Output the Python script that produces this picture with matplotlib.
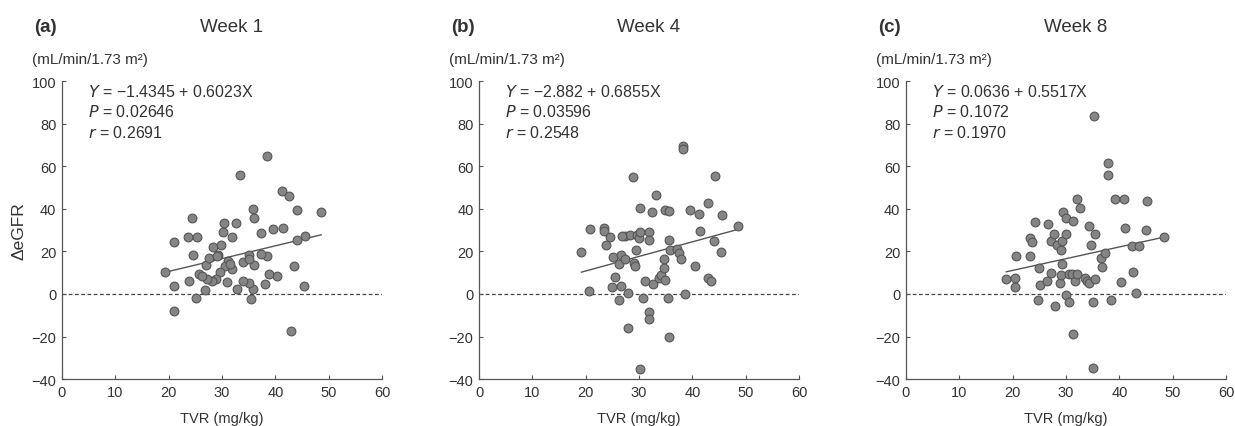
import numpy as np
import matplotlib
matplotlib.use('Agg')
import matplotlib.pyplot as plt

plt.rcParams['font.family'] = ['Liberation Sans', 'DejaVu Sans']

# ===== data =====
labels = ['(a)', '(b)', '(c)']
titles = ['Week 1', 'Week 4', 'Week 8']
intercepts = [-1.4345, -2.882, 0.0636]
slopes = [0.6023, 0.6855, 0.5517]
eq_texts = ['\u22121.4345 + 0.6023X', '\u22122.882 + 0.6855X', '0.0636 + 0.5517X']
p_texts = ['0.02646', '0.03596', '0.1072']
r_texts = ['0.2691', '0.2548', '0.1970']

w1_x = [19.4, 21.0, 21.0, 21.0, 24.3, 23.7, 25.4, 24.6, 23.8, 25.1, 25.6, 26.8, 27.0,
        27.6, 28.3, 29.8, 29.3, 30.1, 30.4, 31.9, 32.6, 33.4, 38.4, 35.8, 36.0, 37.3,
        39.5, 41.4, 41.3, 42.6, 44.1, 48.6, 45.5, 44.0, 43.5, 45.3, 42.9, 40.4, 38.9,
        38.4, 37.3, 38.0, 35.4, 35.8, 35.0, 33.9, 32.8, 31.0, 34.0, 35.0, 36.0, 35.0,
        31.2, 31.8, 30.6, 29.6, 28.9, 28.1, 27.1, 26.2, 31.5, 29.0]
w1_y = [10.5, 24.3, 3.6, -8.0, 35.8, 26.7, 27.0, 18.4, 6.3, -1.9, 9.4, 2.0, 13.8,
        16.8, 22.0, 23.1, 18.4, 29.0, 33.4, 27.0, 33.4, 56.2, 65.1, 40.0, 35.8, 28.7,
        30.6, 30.9, 48.3, 46.3, 39.4, 38.7, 27.1, 25.6, 13.0, 3.9, -17.3, 8.6, 9.4,
        18.0, 18.6, 4.7, -2.4, 2.4, 5.1, 6.3, 2.2, 5.5, 14.9, 18.4, 13.6, 16.5,
        15.7, 11.8, 13.3, 10.2, 7.1, 6.3, 7.1, 8.6, 14.1, 17.8]

w4_x = [19.2, 20.8, 20.7, 23.5, 23.5, 23.8, 24.5, 25.1, 25.4, 24.9, 26.3, 26.7, 26.3,
        26.7, 27.3, 27.4, 27.9, 28.0, 28.8, 28.3, 29.1, 29.3, 29.6, 29.9, 30.2, 29.4,
        30.2, 30.1, 30.7, 31.1, 31.8, 31.8, 31.8, 31.8, 32.4, 32.7, 33.2, 33.8, 34.1,
        34.7, 34.8, 34.6, 34.9, 35.7, 35.7, 35.4, 35.6, 35.8, 37.1, 37.4, 37.8, 38.2,
        38.2, 38.7, 39.6, 40.5, 41.2, 41.5, 42.9, 43.0, 43.5, 44.0, 44.2, 45.3, 45.5,
        48.5, 26.8]
w4_y = [19.7, 30.7, 1.4, 31.0, 29.4, 23.1, 26.6, 17.6, 7.9, 3.1, -2.8, 18.4, 14.2,
        3.9, 27.1, 16.5, 0.6, -16.2, 55.1, 27.9, 14.6, 13.4, 27.9, 26.3, 29.1, 20.8,
        40.5, -35.4, -2.0, 6.1, 29.1, 25.2, -8.3, -11.8, 38.4, 4.9, 46.5, 7.7, 9.0,
        16.5, 6.6, 12.4, 39.4, 38.9, 25.5, -2.0, -20.3, 20.8, 21.3, 19.2, 16.4, 69.6,
        68.4, 0.0, 39.7, 13.2, 37.6, 29.8, 42.8, 7.4, 6.1, 24.7, 55.4, 19.7, 37.0,
        31.8, 27.1]

w8_x = [18.8, 20.5, 20.5, 20.7, 23.2, 23.2, 23.7, 24.2, 24.9, 24.8, 25.2, 26.4, 26.6,
        27.1, 27.2, 27.8, 27.9, 28.4, 28.9, 29.0, 29.1, 29.2, 29.3, 29.5, 30.0, 30.0,
        30.0, 30.5, 30.6, 31.2, 31.4, 31.4, 31.7, 32.1, 32.1, 32.7, 33.6, 34.0, 34.3,
        34.4, 34.6, 35.0, 35.3, 35.1, 35.5, 35.5, 36.5, 36.8, 37.3, 37.8, 37.9, 38.4,
        39.1, 40.3, 40.8, 41.1, 42.3, 42.6, 43.1, 43.7, 45.1, 45.0, 48.3]
w8_y = [7.0, 7.4, 3.2, 18.0, 18.0, 26.4, 24.3, 33.8, 12.2, -2.8, 4.3, 6.2, 33.0,
        25.1, 9.8, 28.3, -5.7, 23.2, 5.1, 9.0, 20.9, 14.2, 24.8, 38.5, 35.9, 28.0,
        -0.5, 9.5, -3.6, 9.5, 34.3, -18.8, 6.2, 9.5, 44.9, 40.6, 7.4, 6.2, 31.9,
        5.1, 23.2, -3.9, 83.7, -34.9, 28.0, 7.0, 16.9, 12.5, 19.3, 61.6, 55.9, -2.8,
        44.9, 5.8, 44.9, 31.1, 22.4, 10.3, 0.3, 22.4, 43.8, 30.0, 26.7]

xs = [w1_x, w4_x, w8_x]
ys = [w1_y, w4_y, w8_y]

# ===== figure =====
fig = plt.figure(figsize=(12.35, 4.27), dpi=100)
lefts = [0.0502, 0.3879, 0.7336]
ink = '#333333'

for i in range(3):
    ax = fig.add_axes([lefts[i], 0.110, 0.2591, 0.697])
    x = np.array(xs[i])
    y = np.array(ys[i])
    ax.axhline(0, color='#444444', linestyle=(0, (3, 2)), linewidth=0.9, zorder=1)
    xl = np.array([x.min(), x.max()])
    ax.plot(xl, intercepts[i] + slopes[i] * xl, color='#555555', linewidth=1.0, zorder=2)
    ax.scatter(x, y, s=40, c='#858585', edgecolors='#555555', linewidths=0.8, zorder=3)

    ax.set_xlim(0, 60)
    ax.set_ylim(-40, 100)
    ax.set_xticks(np.arange(0, 61, 10))
    ax.set_yticks(np.arange(-40, 101, 20))
    for s in ['top', 'right']:
        ax.spines[s].set_visible(False)
    for s in ['left', 'bottom']:
        ax.spines[s].set_color('#555555')
        ax.spines[s].set_linewidth(0.9)
    ax.tick_params(direction='in', length=3, width=0.8, color='#555555',
                   labelsize=10.5, labelcolor=ink, pad=4)
    ax.set_xlabel('TVR (mg/kg)', fontsize=10.5, color=ink, labelpad=9)

    rows = [('Y', eq_texts[i]), ('P', p_texts[i]), ('r', r_texts[i])]
    for k, (sym, val) in enumerate(rows):
        ax.text(0.081, 0.968 - 0.069 * k, '$\\it{' + sym + '}$ = ' + val,
                transform=ax.transAxes, fontsize=11.5, color=ink, va='center')

    ax.text(-0.088, 1.183, labels[i], transform=ax.transAxes, fontsize=13.5,
            fontweight='bold', color=ink, va='center')
    ax.text(0.53, 1.183, titles[i], transform=ax.transAxes, fontsize=13.5,
            color=ink, va='center', ha='center')
    ax.text(-0.094, 1.076, '(mL/min/1.73 m\u00b2)', transform=ax.transAxes,
            fontsize=11, color=ink, va='center')
    if i == 0:
        ax.set_ylabel('\u0394eGFR', fontsize=12.5, color=ink, labelpad=4)

fig.savefig('out.png', dpi=100)
plt.close(fig)
